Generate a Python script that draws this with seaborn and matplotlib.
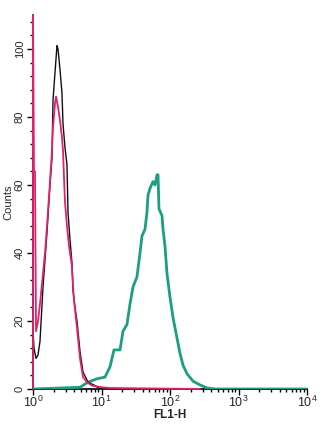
import numpy as np
import pandas as pd
import matplotlib
matplotlib.use("Agg")
import matplotlib.pyplot as plt
import seaborn as sns
from matplotlib.ticker import FixedLocator, NullFormatter, LogLocator

# ---- data (log10 of FL1-H channel, counts) ----
black_log = [0.0, 0.0146, 0.044, 0.073, 0.102, 0.146, 0.175, 0.204, 0.248, 0.277,
             0.292, 0.321, 0.350, 0.365, 0.394, 0.423, 0.438, 0.467, 0.496, 0.511,
             0.540, 0.569, 0.584, 0.613, 0.642, 0.686, 0.730, 0.803, 0.905, 0.978, 1.05]
black_counts = [17, 12, 9, 10, 14, 30, 38, 46, 60, 68,
                85, 93, 101, 100, 94, 87, 78, 71, 66, 52,
                44, 37, 29, 24, 20, 11, 5, 2, 1, 0, 0]

pink_log = [0.0, 0.0, 0.0146, 0.029, 0.044, 0.073, 0.102, 0.146, 0.175, 0.204, 0.248,
            0.277, 0.292, 0.321, 0.336, 0.365, 0.394, 0.423, 0.438, 0.453, 0.467,
            0.496, 0.526, 0.569, 0.584, 0.599, 0.642, 0.686, 0.730, 0.788, 0.861,
            1.007, 1.124, 2.438]
pink_counts = [0, 110, 64, 64, 17, 20, 25, 34, 40, 48, 61,
               70, 77, 84, 86, 83, 79, 74, 70, 62, 55,
               48, 42, 36, 30, 26, 18, 9, 3.5, 2, 1,
               0.5, 0.3, 0]

green_log = [0.0, 0.686, 0.803, 0.934, 1.051, 1.124, 1.182, 1.270, 1.314, 1.372,
             1.416, 1.460, 1.518, 1.562, 1.591, 1.635, 1.664, 1.679, 1.708, 1.752,
             1.781, 1.810, 1.825, 1.839, 1.883, 1.898, 1.927, 1.956, 2.0, 2.044,
             2.102, 2.146, 2.190, 2.248, 2.336, 2.438, 2.540, 2.657, 4.0]
green_counts = [0, 0.5, 2, 3, 3.5, 6.5, 11.5, 11.5, 17, 19,
                25, 30, 33, 40, 45, 47, 52, 57, 59, 61,
                60, 63, 63, 53, 51, 47, 42, 34, 27, 21,
                15, 10.5, 7, 4.5, 2.3, 1.2, 0.3, 0, 0]

x_ticks = [1, 10, 100, 1000, 10000]
x_tick_labels = [r"$10^0$", r"$10^1$", r"$10^2$", r"$10^3$", r"$10^4$"]
y_ticks = [0, 20, 40, 60, 80, 100]

sns.set_theme(style="ticks")
plt.rcParams["font.family"] = ["Liberation Sans", "DejaVu Sans"]
plt.rcParams["mathtext.fontset"] = "custom"
plt.rcParams["mathtext.rm"] = "Liberation Sans"
plt.rcParams["mathtext.it"] = "Liberation Sans"

fig = plt.figure(figsize=(3.2, 4.24), dpi=100)
ax = fig.add_axes([33/320, 1 - 389/424, (307 - 33)/320, (389 - 15)/424])

def series(logs, counts):
    return pd.DataFrame({"fl1": np.power(10.0, np.array(logs)), "counts": counts})

g = series(green_log, green_counts)
b = series(black_log, black_counts)
p = series(pink_log, pink_counts)

sns.lineplot(data=g, x="fl1", y="counts", ax=ax, color="#1b9e82", lw=2.0,
             estimator=None, sort=False, zorder=3)
sns.lineplot(data=b, x="fl1", y="counts", ax=ax, color="#111111", lw=1.0,
             estimator=None, sort=False, zorder=3)
sns.lineplot(data=p, x="fl1", y="counts", ax=ax, color="#e3206c", lw=1.3,
             estimator=None, sort=False, zorder=4, clip_on=False)

ax.set_xscale("log")
ax.set_xlim(1, 10000)
ax.set_ylim(0, 110)

ax.xaxis.set_major_locator(FixedLocator(x_ticks))
ax.set_xticklabels(x_tick_labels, fontsize=9)
ax.xaxis.set_minor_locator(LogLocator(base=10, subs=np.arange(2, 10)))
ax.xaxis.set_minor_formatter(NullFormatter())

ax.yaxis.set_major_locator(FixedLocator(y_ticks))
ax.yaxis.set_minor_locator(FixedLocator(np.arange(0, 111, 4)))
ax.set_yticklabels([str(v) for v in y_ticks], fontsize=8, rotation=90, va="center")

ax.tick_params(axis="x", which="major", length=4, width=1, color="black", pad=0)
ax.tick_params(axis="y", which="major", length=4, width=1, color="black", pad=2)
ax.tick_params(axis="both", which="minor", length=2.5, width=1, color="black")

for s in ["top", "right"]:
    ax.spines[s].set_visible(False)
for s in ["left", "bottom"]:
    ax.spines[s].set_color("black")
    ax.spines[s].set_linewidth(1.2)

ax.set_xlabel("FL1-H", fontsize=8.5, labelpad=-0.5, fontweight="bold")
ax.set_ylabel("Counts", fontsize=8, labelpad=1)
ax.grid(False)

fig.savefig("out.png", dpi=100)
